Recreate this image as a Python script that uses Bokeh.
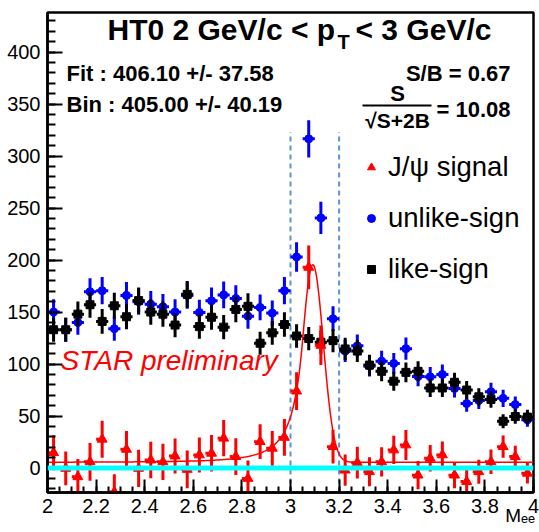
import numpy as np
from bokeh.plotting import figure
from bokeh.models import (Range1d, FixedTicker, NumeralTickFormatter, Label,
                          Legend, LegendItem, Span)
from bokeh.embed import file_html
from bokeh.resources import INLINE

# ---------------- data ----------------
mass_bins = [2.025, 2.075, 2.125, 2.175, 2.225, 2.275, 2.325, 2.375, 2.425, 2.475,
             2.525, 2.575, 2.625, 2.675, 2.725, 2.775, 2.825, 2.875, 2.925, 2.975,
             3.025, 3.075, 3.125, 3.175, 3.225, 3.275, 3.325, 3.375, 3.425, 3.475,
             3.525, 3.575, 3.625, 3.675, 3.725, 3.775, 3.825, 3.875, 3.925, 3.975]
bin_half_width = 0.025

unlike_sign = [150, 133, 140, 169.5, 170.5, 134, 166, 160, 157.6, 155,
               150, 166, 149.6, 160.8, 166.5, 163, 146, 154.4, 149, 170.5,
               203, 316.5, 240.5, 143.5, 112.5, 117.5, 98, 102.8, 100.6, 114.8,
               88, 87.7, 90, 76.5, 62, 65, 73.3, 67, 61, 46.4]
unlike_err = [12.2, 11.5, 11.8, 13.0, 13.1, 11.6, 12.9, 12.6, 12.6, 12.4,
              12.2, 12.9, 12.2, 12.7, 12.9, 12.8, 12.1, 12.4, 12.2, 13.1,
              14.2, 17.8, 15.5, 12.0, 10.6, 10.8, 9.9, 10.1, 10.0, 10.7,
              9.4, 9.4, 9.5, 8.7, 7.9, 8.1, 8.6, 8.2, 7.8, 6.8]

like_sign = [133, 133, 148, 157, 141, 156, 145.5, 161, 150, 148,
             137.5, 167, 136, 145, 135.5, 152.5, 155.5, 120, 130, 138,
             127, 124.5, 121, 122.5, 114.5, 112.5, 99, 93, 83.5, 92,
             93, 77, 77, 82.5, 75, 68.5, 66, 45, 49.5, 49]
like_err = [11.5, 11.5, 12.2, 12.5, 11.9, 12.5, 12.1, 12.7, 12.2, 12.2,
            11.7, 12.9, 11.7, 12.0, 11.6, 12.3, 12.5, 11.0, 11.4, 11.7,
            11.3, 11.2, 11.0, 11.1, 10.7, 10.6, 9.9, 9.6, 9.1, 9.6,
            9.6, 8.8, 8.8, 9.1, 8.7, 8.3, 8.1, 6.7, 7.0, 7.0]

signal = [14.8, -0.3, -8.4, 6, 27.7, -23, 18, -0.3, 7.7, 6,
          11.6, -1.3, 12.6, 14.2, 28.7, 11, -10, 25.4, 19, 29.5,
          74, 193, 118, 20.6, -2, 5.2, -3.5, 6, 17.4, 22.2,
          -6.8, 9.4, 12.6, -6.8, -13, -3.5, 6, 20.6, 11, -5]
signal_err = [16.8, 16.3, 17.0, 18.1, 17.7, 17.0, 17.6, 17.9, 17.5, 17.4,
              16.9, 18.2, 16.9, 17.5, 17.4, 17.7, 17.3, 16.6, 16.7, 17.6,
              18.2, 21.0, 19.0, 16.3, 15.0, 15.2, 14.0, 14.0, 13.6, 14.4,
              13.5, 12.8, 12.9, 12.6, 11.7, 11.5, 11.8, 10.6, 10.5, 9.8]

# fit (Crystal-Ball + flat background) parameters
fit_N, fit_mu, fit_sigma, fit_alpha, fit_n, fit_bkg = 190.0, 3.092, 0.043, 1.0, 3.0, 5.5
mass_window = [3.0, 3.2]
window_top = 323

x_ticks = [2, 2.2, 2.4, 2.6, 2.8, 3, 3.2, 3.4, 3.6, 3.8, 4]
y_ticks = [0, 50, 100, 150, 200, 250, 300, 350, 400]

# ---------------- figure ----------------
W, H = 539, 532
FL, FR, FT, FB = 47, 533, 12, 492   # frame edges in canvas pixels
p = figure(width=W, height=H, output_backend="svg", toolbar_location=None,
           x_range=Range1d(2, 4), y_range=Range1d(-23.5, 438),
           min_border_left=FL, min_border_right=W - FR, min_border_top=FT,
           min_border_bottom=H - FB)
p.grid.visible = False
p.background_fill_color = "white"
p.border_fill_color = "white"
p.outline_line_color = "black"
p.outline_line_width = 2.5

FONT = "Liberation Sans"
for ax in (p.xaxis[0], p.yaxis[0]):
    ax.axis_line_width = 2.5
    ax.major_tick_line_width = 2
    ax.minor_tick_line_width = 2
    ax.major_tick_out = 0
    ax.minor_tick_out = 0
    ax.major_label_text_font = FONT
    ax.major_label_text_font_size = "20px"
    ax.major_label_text_color = "black"

xax = p.xaxis[0]
xax.ticker = FixedTicker(ticks=x_ticks,
                         minor_ticks=list(np.round(np.arange(2, 4.0001, 0.05), 3)))
xax.formatter = NumeralTickFormatter(format="0.[0]")
xax.major_tick_in = 13
xax.minor_tick_in = 6
xax.major_label_standoff = 6

# x-axis title "M_ee" at the right end: the centred axis label is padded on the
# left with no-break spaces so that its visible part ends at the frame's right edge
xax.axis_label = "\u00a0" * 87 + "Mₑₑ"
xax.axis_label_align = "center"
xax.axis_label_text_font = FONT
xax.axis_label_text_font_size = "19px"
xax.axis_label_text_font_style = "normal"
xax.axis_label_text_color = "black"
xax.axis_label_standoff = -11

p.yaxis.ticker = FixedTicker(ticks=y_ticks, minor_ticks=list(range(-20, 440, 10)))
p.yaxis.major_tick_in = 15
p.yaxis.minor_tick_in = 8
p.yaxis.major_label_standoff = 7


# canvas pixel -> data helpers (for text placement only)
def dx(px):
    return 2 + (px - FL) * 2.0 / (FR - FL)


def dy(py):
    return -23.5 + (FB - py) * 461.5 / (FB - FT)


def label(px, py, text, size, style="normal", align="left", color="black", font=FONT):
    p.add_layout(Label(x=dx(px), y=dy(py), text=text, text_font=font,
                       text_font_size=size, text_font_style=style,
                       text_align=align, text_baseline="middle",
                       text_color=color))


# zero line
p.add_layout(Span(location=0, dimension="width", line_color="#00ffff", line_width=5))

# mass window
p.segment(x0=mass_window, x1=mass_window, y0=[-23.5] * 2, y1=[window_top] * 2,
          line_color="#5f95cf", line_width=2, line_dash="5 4")

xb = np.array(mass_bins)


def errbars(vals, errs, color, dash=None):
    v = np.array(vals, dtype=float)
    e = np.array(errs, dtype=float)
    p.segment(x0=xb, x1=xb, y0=v - e, y1=v + e, line_color=color, line_width=3)
    kw = {"line_dash": dash} if dash else {}
    p.segment(x0=xb - bin_half_width, x1=xb + bin_half_width, y0=v, y1=v,
              line_color=color, line_width=3, **kw)


errbars(unlike_sign, unlike_err, "#0000ff")
r_unlike = p.scatter(xb, unlike_sign, marker="circle", size=8,
                     fill_color="#0000ff", line_color="#0000ff")
errbars(like_sign, like_err, "black")
r_like = p.scatter(xb, like_sign, marker="square", size=8,
                   fill_color="black", line_color="black")

# fit curve
xf = np.linspace(2, 4, 800)
t = (xf - fit_mu) / fit_sigma
A = (fit_n / fit_alpha) ** fit_n * np.exp(-fit_alpha ** 2 / 2)
B = fit_n / fit_alpha - fit_alpha
cb = np.where(t > -fit_alpha, np.exp(-t ** 2 / 2),
              A * np.abs(B - t) ** (-fit_n))
p.line(xf, fit_N * cb + fit_bkg, line_color="#ff0000", line_width=1.5)

errbars(signal, signal_err, "#ff0000", dash="3 3")
r_sig = p.scatter(xb, signal, marker="triangle", size=10,
                  fill_color="#ff0000", line_color="#ff0000")

# legend (location = bottom-left corner, measured from the frame's bottom-left)
legend = Legend(items=[LegendItem(label="J/ψ signal", renderers=[r_sig]),
                       LegendItem(label="unlike-sign", renderers=[r_unlike]),
                       LegendItem(label="like-sign", renderers=[r_like])],
                location=(361 - FL, FB - 285), label_text_font=FONT,
                label_text_font_size="27.5px", label_text_color="black",
                glyph_width=20, glyph_height=20, label_height=30, label_standoff=7,
                spacing=19, padding=0, margin=0, border_line_alpha=0,
                background_fill_alpha=0)
p.add_layout(legend)

# title
label(107, 29, "HT0 2 GeV/c < p", "30px", "bold")
label(337, 41, "T", "20px", "bold")
label(355, 29, "< 3 GeV/c", "30px", "bold")

label(66, 73, "Fit : 406.10 +/- 37.58", "22px", "bold")
label(66, 104, "Bin : 405.00 +/- 40.19", "22px", "bold")
label(510, 73, "S/B = 0.67", "22px", "bold", align="right")
label(397, 93, "S", "22px", "bold", align="center")
p.segment(x0=[dx(362)], x1=[dx(431)], y0=[dy(105)], y1=[dy(105)],
          line_color="black", line_width=2)
label(397, 120, "√S+2B", "21px", "bold", align="center")
label(510, 109, "= 10.08", "22px", "bold", align="right")

label(60, 360, "STAR preliminary", "28px", "italic", color="#ff0000")

open("out.html", "w").write(file_html(p, INLINE))
